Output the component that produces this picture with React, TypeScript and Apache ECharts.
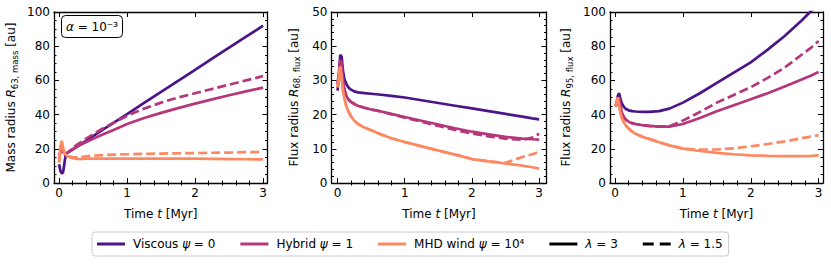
import React, { useEffect, useRef } from "react";
import * as echarts from "echarts";

// ---------- data ----------
const T = [0, 0.02, 0.04, 0.06, 0.08, 0.1, 0.13, 0.16, 0.2, 0.25, 0.3, 0.4, 0.5, 0.65, 0.8, 1, 1.25, 1.5, 1.75, 2, 2.25, 2.5, 2.75, 2.9, 3];

// Panel 1: mass radius R63
const VISC_R63 = [11, 7, 5.5, 6.5, 12, 17.2, 17.8, 18.6, 19.6, 20.9, 22.2, 24.8, 27.4, 31.3, 35.2, 40.3, 46.8, 53.3, 59.7, 66.2, 72.7, 79.1, 85.6, 89.4, 92];
const HYB_R63 = [14, 19, 19, 18, 17.5, 17.3, 17.8, 18.6, 19.8, 21, 22.1, 24, 25.8, 28.5, 31, 34.5, 38, 41, 43.8, 46.4, 48.9, 51.3, 53.6, 54.9, 55.8];
const HYB_R63_D = [14, 19, 19, 18, 17.5, 17.3, 17.9, 18.9, 20.5, 22, 23.3, 26, 28.5, 32, 35.3, 39.3, 43.5, 47, 50, 52.5, 55, 57.5, 60, 61.5, 62.6];
const MHD_R63 = [12, 21, 24.5, 20, 17.5, 16.5, 15.5, 15, 14.5, 14.2, 14, 14.2, 14.3, 14.3, 14.3, 14.3, 14.3, 14.2, 14.2, 14.2, 14.1, 14, 13.9, 13.8, 13.8];
const MHD_R63_D = [12, 21, 24.5, 20, 17.5, 16.5, 15.8, 15.4, 15.1, 15, 15, 15.6, 16, 16.3, 16.6, 16.8, 17, 17.2, 17.4, 17.5, 17.7, 17.8, 18, 18.1, 18.1];

// Panel 2: flux radius R68
const VISC_R68 = [27, 31, 37.5, 37, 33, 30.5, 29, 28, 27.3, 26.8, 26.5, 26.3, 26.1, 25.8, 25.5, 25, 24.2, 23.4, 22.6, 21.8, 21, 20.2, 19.4, 18.9, 18.6];
const HYB_R68 = [29, 32, 36, 35, 30, 27.5, 25.5, 24.5, 23.7, 23.1, 22.6, 22, 21.5, 20.9, 20.2, 19.3, 18.2, 17.1, 16, 15, 14.2, 13.5, 13, 12.8, 12.7];
const HYB_R68_D = [29, 32, 36, 35, 30, 27.5, 25.5, 24.5, 23.7, 23.1, 22.6, 22, 21.5, 20.9, 20.1, 19.1, 17.9, 16.7, 15.5, 14.5, 13.6, 13, 12.6, 13.3, 14.4];
const MHD_R68 = [28, 31, 34, 31, 27, 25, 22.5, 21, 19.5, 18.2, 17.3, 16.2, 15.4, 14.2, 13.1, 12, 10.7, 9.5, 8.3, 7, 6.3, 5.7, 5.1, 4.6, 4.2];
const MHD_R68_D = [28, 31, 34, 31, 27, 25, 22.5, 21, 19.5, 18.2, 17.3, 16.2, 15.4, 14.2, 13.1, 12, 10.7, 9.5, 8.3, 7, 6.3, 5.9, 7.6, 8.4, 9.1];

// Panel 3: flux radius R95
const VISC_R95 = [45, 46, 51, 52.5, 49, 46.5, 44.5, 43.3, 42.5, 42, 41.8, 41.6, 41.6, 42, 43.5, 47, 52.5, 58.5, 64.5, 70.5, 78, 86, 95, 101, 105];
const HYB_R95 = [45, 46, 49, 50, 45, 41, 38.5, 37, 35.8, 35, 34.5, 33.8, 33.4, 33, 33, 34.5, 38, 42, 45.5, 49, 52.5, 56.5, 60.5, 63, 65];
const HYB_R95_D = [45, 46, 49, 50, 45, 41, 38.5, 37, 35.8, 35, 34.5, 33.8, 33.4, 33, 33.2, 36.5, 41.5, 47, 51.5, 56, 61.5, 67.5, 75, 79.5, 83];
const MHD_R95 = [45, 47, 50, 45, 41, 38, 35.5, 33.5, 31.8, 30, 28.8, 27, 25.8, 23.8, 22, 20.1, 18.7, 17.6, 16.8, 16.2, 15.9, 15.7, 15.7, 15.9, 16.1];
const MHD_R95_D = [45, 47, 50, 45, 41, 38, 35.5, 33.5, 31.8, 30, 28.8, 27, 25.8, 23.8, 22, 20.1, 19.6, 19.6, 20.3, 21.5, 22.8, 24.3, 26.2, 27.2, 27.9];

const X_TICKS = [0, 1, 2, 3];
const X_MINOR = [0.2, 0.4, 0.6, 0.8, 1.2, 1.4, 1.6, 1.8, 2.2, 2.4, 2.6, 2.8];

const LEG_VISC = "Viscous ψ = 0";
const LEG_HYB = "Hybrid ψ = 1";
const LEG_MHD = "MHD wind ψ = 10⁴";
const LEG_L3 = "λ = 3";
const LEG_L15 = "λ = 1.5";

const LEGEND_LABELS: Record<string, string> = {
  [LEG_VISC]: "Viscous {i|ψ} = 0",
  [LEG_HYB]: "Hybrid {i|ψ} = 1",
  [LEG_MHD]: "MHD wind {i|ψ} = 10⁴",
  [LEG_L3]: "{i|λ} = 3",
  [LEG_L15]: "{i|λ} = 1.5",
};

const X_NAME = "Time {i|t} [Myr]";
const Y_NAMES = [
  "Mass radius {i|R}{sub|63, mass} [au]",
  "Flux radius {i|R}{sub|68, flux} [au]",
  "Flux radius {i|R}{sub|95, flux} [au]",
];
const ALPHA_TEXT = "{i|α} = 10⁻³";

// ---------- style ----------
const C_VISC = "#4b1589";
const C_HYB = "#b5367a";
const C_MHD = "#fc8961";
const FONT = "DejaVu Sans";
const ICON_SOLID = "rect";
const ICON_DASHED = "path://M0,0H11V3H0Z M17,0H28V3H17Z";

const PANELS = [
  {
    left: 54, width: 213.5, xMin: -0.075, xMax: 3.065, yMax: 100, yInt: 20, yMinor: 4, nameGap: 35,
    lines: [
      [VISC_R63, C_VISC, "solid", LEG_VISC],
      [HYB_R63, C_HYB, "solid", LEG_HYB],
      [HYB_R63_D, C_HYB, "dashed", "h63d"],
      [MHD_R63, C_MHD, "solid", LEG_MHD],
      [MHD_R63_D, C_MHD, "dashed", "m63d"],
    ],
  },
  {
    left: 331.5, width: 215, xMin: -0.09, xMax: 3.11, yMax: 50, yInt: 10, yMinor: 5, nameGap: 30,
    lines: [
      [VISC_R68, C_VISC, "solid", LEG_VISC],
      [HYB_R68, C_HYB, "solid", LEG_HYB],
      [HYB_R68_D, C_HYB, "dashed", "h68d"],
      [MHD_R68, C_MHD, "solid", LEG_MHD],
      [MHD_R68_D, C_MHD, "dashed", "m68d"],
    ],
  },
  {
    left: 610, width: 213, xMin: -0.075, xMax: 3.065, yMax: 100, yInt: 20, yMinor: 4, nameGap: 36,
    lines: [
      [VISC_R95, C_VISC, "solid", LEG_VISC],
      [HYB_R95, C_HYB, "solid", LEG_HYB],
      [HYB_R95_D, C_HYB, "dashed", "h95d"],
      [MHD_R95, C_MHD, "solid", LEG_MHD],
      [MHD_R95_D, C_MHD, "dashed", "m95d"],
    ],
  },
];

const TOP = 12;
const HEIGHT = 171;
const DASH = [9, 4];
const LW = 2.7;

function buildOption() {
  const grid: any[] = [];
  const xAxis: any[] = [];
  const yAxis: any[] = [];
  const series: any[] = [];
  const spine = { show: true, onZero: false, lineStyle: { color: "#000", width: 1.3 } };
  const tickStyle = { color: "#000", width: 1 };
  const labelStyle = { color: "#000", fontSize: 12, fontFamily: FONT };

  PANELS.forEach((p, i) => {
    grid.push({ left: p.left, top: TOP, width: p.width, height: HEIGHT, containLabel: false });
    const baseX = { gridIndex: i, type: "value", min: p.xMin, max: p.xMax, splitLine: { show: false } };
    xAxis.push({
      ...baseX,
      position: "bottom",
      axisLine: spine,
      axisTick: { show: true, inside: true, length: 5, customValues: X_TICKS, lineStyle: tickStyle },
      axisLabel: { show: true, customValues: X_TICKS, margin: 4, ...labelStyle },
      name: X_NAME,
      nameLocation: "middle",
      nameGap: 23,
      nameTextStyle: {
        color: "#000", fontSize: 12, fontFamily: FONT, lineHeight: 16,
        rich: { i: { fontStyle: "italic", fontSize: 12, fontFamily: FONT, color: "#000", lineHeight: 16 } },
      },
    });
    xAxis.push({
      ...baseX,
      position: "bottom",
      axisLine: { show: false },
      axisTick: { show: true, inside: true, length: 2.5, customValues: X_MINOR, lineStyle: tickStyle },
      axisLabel: { show: false },
    });
    xAxis.push({
      ...baseX,
      position: "top",
      axisLine: spine,
      axisTick: { show: true, inside: true, length: 5, customValues: X_TICKS, lineStyle: tickStyle },
      axisLabel: { show: false },
    });
    xAxis.push({
      ...baseX,
      position: "top",
      axisLine: { show: false },
      axisTick: { show: true, inside: true, length: 2.5, customValues: X_MINOR, lineStyle: tickStyle },
      axisLabel: { show: false },
    });

    const baseY = {
      gridIndex: i, type: "value", min: 0, max: p.yMax, interval: p.yInt,
      splitLine: { show: false }, minorSplitLine: { show: false },
      axisLine: spine,
      axisTick: { show: true, inside: true, length: 5, lineStyle: tickStyle },
      minorTick: { show: true, splitNumber: p.yMinor, length: 2.5, lineStyle: tickStyle },
    };
    yAxis.push({
      ...baseY,
      position: "left",
      axisLabel: { show: true, margin: 4, ...labelStyle },
      name: Y_NAMES[i],
      nameLocation: "middle",
      nameGap: p.nameGap,
      nameTextStyle: {
        color: "#000", fontSize: 12, fontFamily: FONT, lineHeight: 16,
        rich: {
          i: { fontStyle: "italic", fontSize: 12, fontFamily: FONT, color: "#000", lineHeight: 16 },
          sub: { fontSize: 8.5, fontFamily: FONT, color: "#000", lineHeight: 9, verticalAlign: "bottom" },
        },
      },
    });
    yAxis.push({ ...baseY, position: "right", axisLabel: { show: false } });

    p.lines.forEach((ln: any) => {
      const [vals, color, type, name] = ln;
      series.push({
        type: "line",
        name,
        xAxisIndex: i * 4,
        yAxisIndex: i * 2,
        data: T.map((t, k) => [t, vals[k]]),
        symbol: "none",
        showSymbol: false,
        clip: true,
        lineStyle: { color, width: LW, type: type === "dashed" ? DASH : "solid" },
        itemStyle: { color },
        z: 3,
      });
    });
  });

  series.push({
    type: "line", name: LEG_L3, xAxisIndex: 0, yAxisIndex: 0, data: [], symbol: "none",
    lineStyle: { color: "#000", width: LW, type: "solid" }, itemStyle: { color: "#000" },
  });
  series.push({
    type: "line", name: LEG_L15, xAxisIndex: 0, yAxisIndex: 0, data: [], symbol: "none",
    lineStyle: { color: "#000", width: LW, type: DASH }, itemStyle: { color: "#000" },
  });

  return {
    animation: false,
    backgroundColor: "#fff",
    textStyle: { fontFamily: FONT },
    grid,
    xAxis,
    yAxis,
    series,
    legend: {
      data: [
        { name: LEG_VISC, icon: ICON_SOLID },
        { name: LEG_HYB, icon: ICON_SOLID },
        { name: LEG_MHD, icon: ICON_SOLID },
        { name: LEG_L3, icon: ICON_SOLID },
        { name: LEG_L15, icon: ICON_DASHED },
      ],
      left: 92,
      top: 232,
      orient: "horizontal",
      itemWidth: 28,
      itemHeight: 3,
      itemGap: 25,
      padding: [5, 6, 5, 5],
      borderColor: "#cccccc",
      borderWidth: 1,
      borderRadius: 3,
      selectedMode: false,
      formatter: (name: string) => LEGEND_LABELS[name] || name,
      textStyle: {
        color: "#000", fontSize: 12, fontFamily: FONT, padding: [0, 0, 0, 3], lineHeight: 14,
        rich: { i: { fontStyle: "italic", fontSize: 12, fontFamily: FONT, color: "#000", lineHeight: 14 } },
      },
    },
    graphic: [
      {
        type: "group",
        left: 61,
        top: 15,
        z: 10,
        children: [
          {
            type: "rect",
            shape: { x: 0, y: 0, width: 61, height: 22, r: 4 },
            style: { fill: "#fff", stroke: "#000", lineWidth: 1 },
          },
          {
            type: "text",
            x: 30.5,
            y: 11,
            style: {
              text: ALPHA_TEXT,
              fill: "#000",
              fontSize: 12,
              fontFamily: FONT,
              align: "center",
              verticalAlign: "middle",
              rich: { i: { fontStyle: "italic", fontSize: 12, fontFamily: FONT, fill: "#000" } },
            },
          },
        ],
      },
    ],
  };
}

export default function App() {
  const ref = useRef<HTMLDivElement>(null);
  useEffect(() => {
    if (!ref.current) return;
    const chart = echarts.init(ref.current, undefined, { renderer: "svg" });
    chart.setOption(buildOption() as any);
    return () => chart.dispose();
  }, []);
  return (
    <div
      ref={ref}
      style={{ position: "fixed", left: 0, top: 0, width: 831, height: 264, background: "#fff" }}
    />
  );
}
